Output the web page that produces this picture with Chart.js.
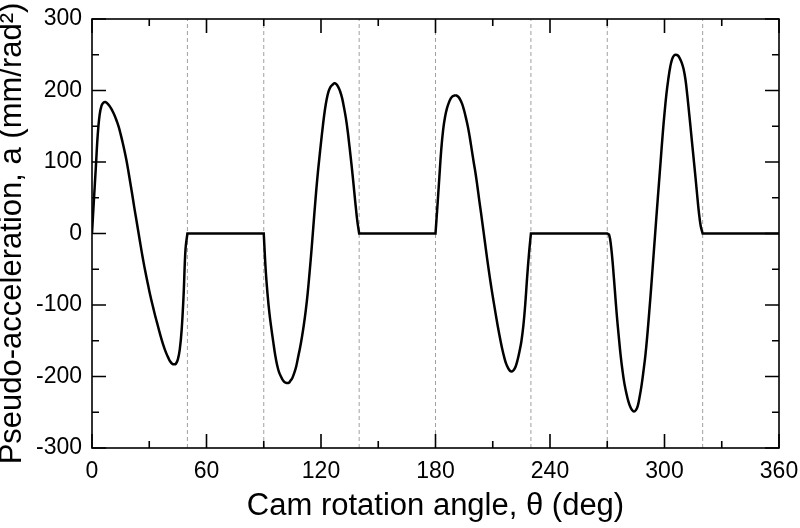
<!DOCTYPE html>
<html>
<head>
<meta charset="utf-8">
<script src="https://cdn.jsdelivr.net/npm/chart.js@4.4.1/dist/chart.umd.min.js"></script>
<style>
html,body{margin:0;padding:0;background:#fff;}
#wrap{width:800px;height:528px;}
</style>
</head>
<body>
<div id="wrap"><canvas id="c" width="800" height="528"></canvas></div>
<script>
// ---- data ----
const xTickValues = [0, 60, 120, 180, 240, 300, 360];
const yTickValues = [-300, -200, -100, 0, 100, 200, 300];
const boundaryAngles = [50, 90, 140, 180, 230, 270, 320];

const seg1Theta = [0,1,2,3,4,5,6,7,8,9,10,11,12,13,14,15,16,17,18,19,20,21,22,23,24,25,26,27,28,29,30,31,32,33,34,35,36,37,38,39,40,41,42,43,44,45,46,47,48,49,50];
const seg1Accel = [0,47,92,138,166,179,183,184,182,179,175,170,164,157,149,139,128,116,103,88,72,56,39,23,7,-9,-25,-40,-54,-67,-80,-92,-103,-114,-124,-134,-144,-153,-161,-168,-174,-179,-182,-183,-182,-176,-162,-134,-86,-22,0];

const dwell1Theta = [50, 90];
const dwell1Accel = [0, 0];

const seg2Theta = [90,91,92,93,94,95,96,97,98,99,100,101,102,103,104,105,106,107,108,109,110,111,112,113,114,115,116,117,118,119,120,121,122,123,124,125,126,127,128,129,130,131,132,133,134,135,136,137,138,139,140];
const seg2Accel = [0,-50,-85,-112,-133,-152,-170,-184,-194,-200,-205,-208,-209,-209,-206,-202,-195,-186,-173,-160,-145,-128,-108,-84,-55,-24,10,44,75,102,127,151,172,188,199,205,208,210,209,205,199,190,177,162,143,120,96,70,43,18,0];

const dwell2Theta = [140, 180];
const dwell2Accel = [0, 0];

const seg3Theta = [180,181,182,183,184,185,186,187,188,189,190,191,192,193,194,195,196,197,198,199,200,201,202,203,204,205,206,207,208,209,210,211,212,213,214,215,216,217,218,219,220,221,222,223,224,225,226,227,228,229,230];
const seg3Accel = [0,38,78,117,145,163,175,183,189,192,193,193,191,187,181,172,161,149,134,117,100,84,65,45,26,6,-14,-34,-53,-71,-88,-104,-120,-135,-149,-162,-173,-182,-188,-192,-193,-191,-186,-177,-165,-151,-130,-100,-62,-28,0];

const dwell3Theta = [230, 270];
const dwell3Accel = [0, 0];

const seg4Theta = [270,271,272,273,274,275,276,277,278,279,280,281,282,283,284,285,286,287,288,289,290,291,292,293,294,295,296,297,298,299,300,301,302,303,304,305,306,307,308,309,310,311,312,313,314,315,316,317,318,319,320];
const seg4Accel = [0,-2,-18,-46,-80,-114,-143,-170,-192,-210,-223,-234,-242,-247,-249,-247,-241,-228,-212,-192,-170,-142,-110,-76,-40,-4,32,67,102,137,168,195,216,233,244,249,250,249,245,239,230,215,192,166,139,112,85,57,30,10,0];

const dwell4Theta = [320, 360];
const dwell4Accel = [0, 0];

// ---- build the series ----
const segments = [
  [seg1Theta, seg1Accel], [dwell1Theta, dwell1Accel],
  [seg2Theta, seg2Accel], [dwell2Theta, dwell2Accel],
  [seg3Theta, seg3Accel], [dwell3Theta, dwell3Accel],
  [seg4Theta, seg4Accel], [dwell4Theta, dwell4Accel]
];
const curvePoints = [];
segments.forEach(([t, a]) => t.forEach((v, i) => curvePoints.push({x: v, y: a[i]})));

const yMin = yTickValues[0], yMax = yTickValues[yTickValues.length - 1];
const datasets = [{
  data: curvePoints,
  borderColor: '#000',
  borderWidth: 2.5,
  pointRadius: 0,
  tension: 0.4,
  fill: false
}];
boundaryAngles.forEach(b => datasets.push({
  data: [{x: b, y: yMin}, {x: b, y: yMax}],
  borderColor: '#a0a0a0',
  borderWidth: 1,
  borderDash: [4, 3],
  pointRadius: 0,
  fill: false
}));

const FONT = "'Liberation Sans', Arial, Helvetica, sans-serif";

const frameTicks = {
  id: 'frameTicks',
  afterDatasetsDraw(chart) {
    const {ctx, chartArea: a, scales: {x, y}} = chart;
    ctx.save();
    ctx.strokeStyle = '#000';
    ctx.lineWidth = 1.6;
    ctx.strokeRect(a.left, a.top, a.right - a.left, a.bottom - a.top);
    ctx.beginPath();
    const tx = (v, len) => {
      const p = x.getPixelForValue(v);
      ctx.moveTo(p, a.bottom); ctx.lineTo(p, a.bottom - len);
      ctx.moveTo(p, a.top); ctx.lineTo(p, a.top + len);
    };
    const ty = (v, len) => {
      const p = y.getPixelForValue(v);
      ctx.moveTo(a.left, p); ctx.lineTo(a.left + len, p);
      ctx.moveTo(a.right, p); ctx.lineTo(a.right - len, p);
    };
    const xv = x.ticks.map(t => t.value);
    xv.forEach(v => tx(v, 14));
    for (let i = 0; i < xv.length - 1; i++) tx((xv[i] + xv[i + 1]) / 2, 7);
    const yv = y.ticks.map(t => t.value);
    yv.forEach(v => ty(v, 14));
    for (let i = 0; i < yv.length - 1; i++) ty((yv[i] + yv[i + 1]) / 2, 7);
    ctx.stroke();
    ctx.restore();
  }
};

new Chart(document.getElementById('c'), {
  type: 'line',
  data: {datasets},
  options: {
    responsive: false,
    animation: false,
    devicePixelRatio: 1,
    layout: {padding: {top: 19, right: 21, left: 0, bottom: 0}},
    plugins: {legend: {display: false}, tooltip: {enabled: false}},
    scales: {
      x: {
        type: 'linear',
        min: xTickValues[0],
        max: xTickValues[xTickValues.length - 1],
        afterBuildTicks: s => { s.ticks = xTickValues.map(v => ({value: v})); },
        afterFit: s => { s.height = 80; s.paddingLeft = 0; s.paddingRight = 0; },
        grid: {display: false, drawTicks: false},
        border: {display: false},
        ticks: {color: '#000', padding: 10, maxRotation: 0, font: {family: FONT, size: 23}},
        title: {display: true, text: 'Cam rotation angle, θ (deg)', color: '#000',
                font: {family: FONT, size: 31, lineHeight: 0.8}, padding: {top: 0, bottom: 9}}
      },
      y: {
        type: 'linear',
        min: yMin,
        max: yMax,
        afterBuildTicks: s => { s.ticks = yTickValues.map(v => ({value: v})); },
        afterFit: s => { s.width = 92; s.paddingTop = 0; s.paddingBottom = 0; },
        grid: {display: false, drawTicks: false},
        border: {display: false},
        ticks: {color: '#000', padding: 10, font: {family: FONT, size: 23}},
        title: {display: true, text: 'Pseudo-acceleration, a (mm/rad²)', color: '#000',
                font: {family: FONT, size: 31, lineHeight: 0.8}, padding: {top: 0, bottom: 0}}
      }
    }
  },
  plugins: [frameTicks]
});
</script>
</body>
</html>
